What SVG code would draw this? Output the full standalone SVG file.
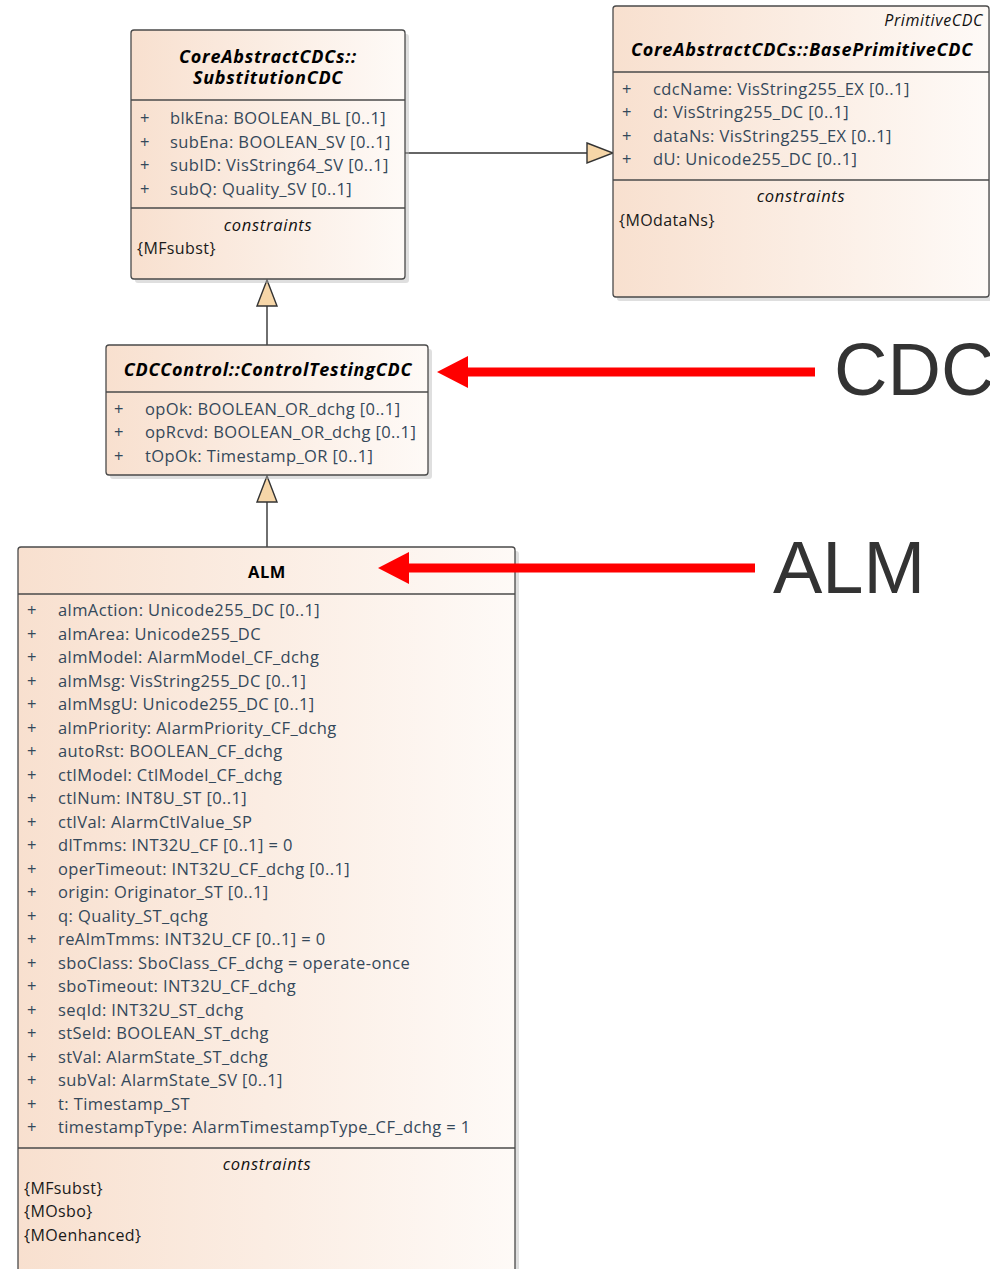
<svg xmlns="http://www.w3.org/2000/svg" width="990" height="1269" viewBox="0 0 990 1269">
  <defs>
    <linearGradient id="classFill" x1="0" y1="0" x2="1" y2="0">
      <stop offset="0" stop-color="#f8e0cf"/>
      <stop offset="1" stop-color="#fefaf7"/>
    </linearGradient>
    <style>
      .box { fill: url(#classFill); stroke: #4a4a4a; stroke-width: 1.3; }
      .shadow { fill: #b8b8b8; opacity: 0.45; }
      .sep { stroke: #4a4a4a; stroke-width: 1.3; }
      .title { font-family: "Open Sans", "Noto Sans", sans-serif; font-size: 18px; letter-spacing: 0.75px; font-weight: bold; font-style: italic; fill: #000; text-anchor: middle; }
      .title-plain { font-family: "Open Sans", "Noto Sans", sans-serif; font-size: 16.5px; letter-spacing: 0.5px; font-weight: bold; fill: #000; text-anchor: middle; }
      .stereo { font-family: "Open Sans", "Noto Sans", sans-serif; font-size: 16px; letter-spacing: 0.6px; font-style: italic; fill: #111; text-anchor: end; }
      .attr { font-family: "Open Sans", "Noto Sans", sans-serif; font-size: 16.5px; letter-spacing: 0.4px; fill: #34485a; }
      .cons-head { font-family: "Open Sans", "Noto Sans", sans-serif; font-size: 16.5px; letter-spacing: 0.7px; font-style: italic; fill: #111; text-anchor: middle; }
      .cons { font-family: "Open Sans", "Noto Sans", sans-serif; font-size: 16px; letter-spacing: 0.4px; fill: #1a1a1a; }
      .edge { stroke: #333; stroke-width: 1.4; fill: none; }
      .gen { fill: #f6d6a8; stroke: #333; stroke-width: 1.4; stroke-linejoin: miter; }
      .pointer { stroke: #ff0000; stroke-width: 9; fill: none; }
      .pointer-head { fill: #ff0000; }
      .callout { font-family: "Liberation Sans", Arial, sans-serif; font-size: 74px; fill: #333333; }
    </style>
  </defs>

  <rect width="990" height="1269" fill="#ffffff"/>

  <!-- generalization connectors -->
  <g id="connectors">
    <line class="edge" x1="405" y1="153" x2="587" y2="153"/>
    <polygon class="gen" points="587,143 613,153 587,163"/>
    <line class="edge" x1="267" y1="345" x2="267" y2="306"/>
    <polygon class="gen" points="257,306 267,280 277,306"/>
    <line class="edge" x1="267" y1="547" x2="267" y2="502"/>
    <polygon class="gen" points="257,502 267,476 277,502"/>
  </g>

  <!-- SubstitutionCDC -->
  <g id="substitution-cdc">
    <rect class="shadow" x="135" y="34" width="274" height="249" rx="3"/>
    <rect class="box" x="131" y="30" width="274" height="249" rx="3"/>
    <text class="title" x="268" y="63">CoreAbstractCDCs::</text>
    <text class="title" x="268" y="84">SubstitutionCDC</text>
    <line class="sep" x1="131" y1="100" x2="405" y2="100"/>
    <g class="attr">
      <text x="140" y="124">+</text><text x="170" y="124">blkEna: BOOLEAN_BL [0..1]</text>
      <text x="140" y="147.5">+</text><text x="170" y="147.5">subEna: BOOLEAN_SV [0..1]</text>
      <text x="140" y="171">+</text><text x="170" y="171">subID: VisString64_SV [0..1]</text>
      <text x="140" y="194.5">+</text><text x="170" y="194.5">subQ: Quality_SV [0..1]</text>
    </g>
    <line class="sep" x1="131" y1="208" x2="405" y2="208"/>
    <text class="cons-head" x="268" y="231">constraints</text>
    <text class="cons" x="137" y="254">{MFsubst}</text>
  </g>

  <!-- BasePrimitiveCDC -->
  <g id="base-primitive-cdc">
    <rect class="shadow" x="617" y="10" width="376" height="291" rx="3"/>
    <rect class="box" x="613" y="6" width="376" height="291" rx="3"/>
    <text class="stereo" x="983" y="26">PrimitiveCDC</text>
    <text class="title" x="802" y="56">CoreAbstractCDCs::BasePrimitiveCDC</text>
    <line class="sep" x1="613" y1="72" x2="989" y2="72"/>
    <g class="attr">
      <text x="622" y="94.5">+</text><text x="653" y="94.5">cdcName: VisString255_EX [0..1]</text>
      <text x="622" y="118">+</text><text x="653" y="118">d: VisString255_DC [0..1]</text>
      <text x="622" y="141.5">+</text><text x="653" y="141.5">dataNs: VisString255_EX [0..1]</text>
      <text x="622" y="165">+</text><text x="653" y="165">dU: Unicode255_DC [0..1]</text>
    </g>
    <line class="sep" x1="613" y1="180" x2="989" y2="180"/>
    <text class="cons-head" x="801" y="202">constraints</text>
    <text class="cons" x="619" y="226">{MOdataNs}</text>
  </g>

  <!-- ControlTestingCDC -->
  <g id="control-testing-cdc">
    <rect class="shadow" x="110" y="349" width="322" height="130" rx="3"/>
    <rect class="box" x="106" y="345" width="322" height="130" rx="3"/>
    <text class="title" x="268" y="376">CDCControl::ControlTestingCDC</text>
    <line class="sep" x1="106" y1="392" x2="428" y2="392"/>
    <g class="attr">
      <text x="114" y="414.5">+</text><text x="145" y="414.5">opOk: BOOLEAN_OR_dchg [0..1]</text>
      <text x="114" y="438">+</text><text x="145" y="438">opRcvd: BOOLEAN_OR_dchg [0..1]</text>
      <text x="114" y="461.5">+</text><text x="145" y="461.5">tOpOk: Timestamp_OR [0..1]</text>
    </g>
  </g>

  <!-- ALM -->
  <g id="alm">
    <rect class="shadow" x="22" y="551" width="497" height="730" rx="3"/>
    <rect class="box" x="18" y="547" width="497" height="730" rx="3"/>
    <text class="title-plain" x="267" y="578">ALM</text>
    <line class="sep" x1="18" y1="594" x2="515" y2="594"/>
    <g class="attr">
      <text x="27" y="616">+</text><text x="58" y="616">almAction: Unicode255_DC [0..1]</text>
      <text x="27" y="639.5">+</text><text x="58" y="639.5">almArea: Unicode255_DC</text>
      <text x="27" y="663">+</text><text x="58" y="663">almModel: AlarmModel_CF_dchg</text>
      <text x="27" y="686.5">+</text><text x="58" y="686.5">almMsg: VisString255_DC [0..1]</text>
      <text x="27" y="710">+</text><text x="58" y="710">almMsgU: Unicode255_DC [0..1]</text>
      <text x="27" y="733.5">+</text><text x="58" y="733.5">almPriority: AlarmPriority_CF_dchg</text>
      <text x="27" y="757">+</text><text x="58" y="757">autoRst: BOOLEAN_CF_dchg</text>
      <text x="27" y="780.5">+</text><text x="58" y="780.5">ctlModel: CtlModel_CF_dchg</text>
      <text x="27" y="804">+</text><text x="58" y="804">ctlNum: INT8U_ST [0..1]</text>
      <text x="27" y="827.5">+</text><text x="58" y="827.5">ctlVal: AlarmCtlValue_SP</text>
      <text x="27" y="851">+</text><text x="58" y="851">dlTmms: INT32U_CF [0..1] = 0</text>
      <text x="27" y="874.5">+</text><text x="58" y="874.5">operTimeout: INT32U_CF_dchg [0..1]</text>
      <text x="27" y="898">+</text><text x="58" y="898">origin: Originator_ST [0..1]</text>
      <text x="27" y="921.5">+</text><text x="58" y="921.5">q: Quality_ST_qchg</text>
      <text x="27" y="945">+</text><text x="58" y="945">reAlmTmms: INT32U_CF [0..1] = 0</text>
      <text x="27" y="968.5">+</text><text x="58" y="968.5">sboClass: SboClass_CF_dchg = operate-once</text>
      <text x="27" y="992">+</text><text x="58" y="992">sboTimeout: INT32U_CF_dchg</text>
      <text x="27" y="1015.5">+</text><text x="58" y="1015.5">seqId: INT32U_ST_dchg</text>
      <text x="27" y="1039">+</text><text x="58" y="1039">stSeld: BOOLEAN_ST_dchg</text>
      <text x="27" y="1062.5">+</text><text x="58" y="1062.5">stVal: AlarmState_ST_dchg</text>
      <text x="27" y="1086">+</text><text x="58" y="1086">subVal: AlarmState_SV [0..1]</text>
      <text x="27" y="1109.5">+</text><text x="58" y="1109.5">t: Timestamp_ST</text>
      <text x="27" y="1133">+</text><text x="58" y="1133">timestampType: AlarmTimestampType_CF_dchg = 1</text>
    </g>
    <line class="sep" x1="18" y1="1148" x2="515" y2="1148"/>
    <text class="cons-head" x="267" y="1170">constraints</text>
    <text class="cons" x="24" y="1194">{MFsubst}</text>
    <text class="cons" x="24" y="1217">{MOsbo}</text>
    <text class="cons" x="24" y="1241">{MOenhanced}</text>
  </g>

  <!-- red callouts -->
  <g id="callout-cdc">
    <line class="pointer" x1="466" y1="372" x2="815" y2="372"/>
    <polygon class="pointer-head" points="437,372 468,356 468,388"/>
    <text class="callout" x="834" y="395">CDC</text>
  </g>
  <g id="callout-alm">
    <line class="pointer" x1="407" y1="568" x2="755" y2="568"/>
    <polygon class="pointer-head" points="378,568 409,552 409,584"/>
    <text class="callout" x="773" y="593">ALM</text>
  </g>
</svg>
